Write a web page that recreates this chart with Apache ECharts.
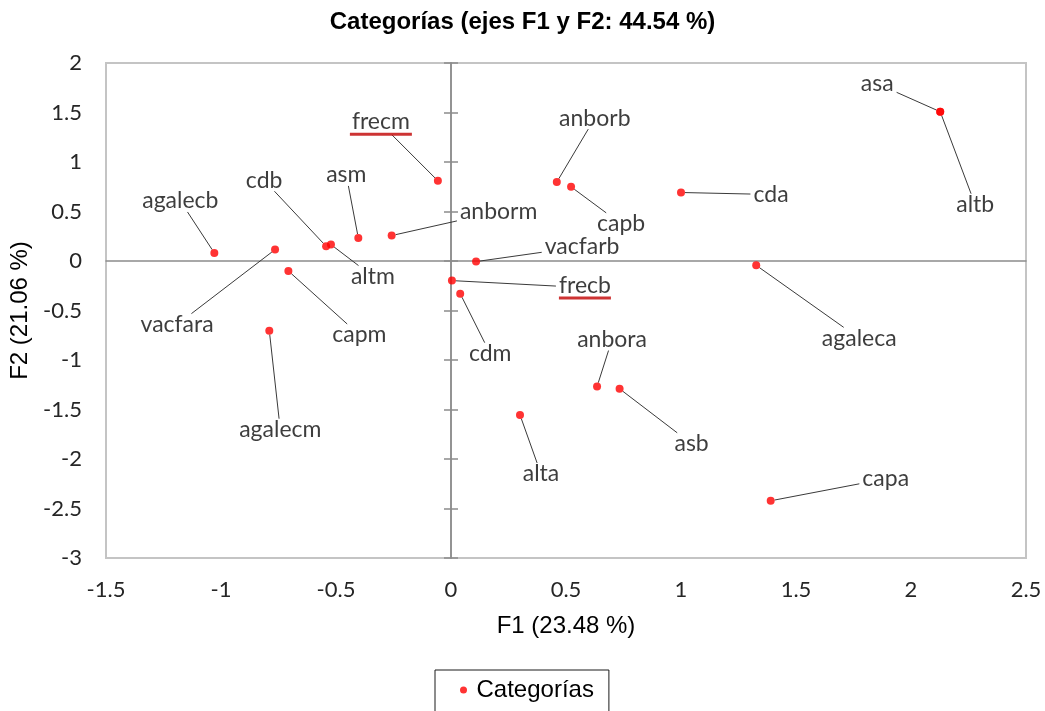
<!DOCTYPE html>
<html><head><meta charset="utf-8">
<script src="https://cdn.jsdelivr.net/npm/echarts@6/dist/echarts.min.js"></script>
<style>html,body{margin:0;padding:0;background:#fff}#c{width:1045px;height:711px}</style>
</head><body><div id="c"></div>
<script>
// ---- data ----
const categories = ['agalecb','vacfara','cdb','altm','asm','capm','agalecm','frecm','anborm','vacfarb','frecb','cdm','anborb','capb','cda','anbora','asb','alta','agaleca','capa','asa','altb'];
const f1 = [-1.029,-0.765,-0.543,-0.522,-0.403,-0.707,-0.790,-0.057,-0.258,0.109,0.004,0.040,0.460,0.522,1.000,0.635,0.733,0.300,1.327,1.390,2.127,2.127];
const f2 = [0.081,0.115,0.149,0.166,0.233,-0.101,-0.704,0.810,0.257,-0.006,-0.198,-0.330,0.797,0.749,0.692,-1.268,-1.291,-1.555,-0.044,-2.422,1.508,1.508];
const underlined = ['frecm','frecb'];
const titleText = 'Categorías (ejes F1 y F2: 44.54 %)';
const xName = 'F1 (23.48 %)';
const yName = 'F2 (21.06 %)';
const seriesName = 'Categorías';

// ---- layout (label placement relative to each point, px) ----
const labelOffset = {
  agalecb:[-34,-52], vacfara:[-98,75], cdb:[-62,-66], altm:[42,32], asm:[-12,-63],
  capm:[71,64], agalecm:[11,99], frecm:[-57,-57], anborm:[107,-24], vacfarb:[106,-15],
  frecb:[133,7], cdm:[30,60], anborb:[38,-64], capb:[50,37], cda:[90,2],
  anbora:[15,-47], asb:[72,55], alta:[21,59], agaleca:[103,73], capa:[115,-22],
  asa:[-63,-28], altb:[35,93]
};
const underlineWidth = {frecm:62, frecb:52};

const LABEL_SIZE = 23;
const labelFont = {fontFamily:'Lato', fontSize:LABEL_SIZE, color:'#0d0d0d'};

// text measurement for leader-line end points
const mctx = document.createElement('canvas').getContext('2d');
mctx.font = LABEL_SIZE + 'px Lato';
function textHalfBox(name){ return [mctx.measureText(name).width/2 + 3, 11]; }

const data = categories.map((n,i)=>{
  const item = {name:n, value:[f1[i], f2[i]], label:{offset: labelOffset[n]}};
  if (underlined.indexOf(n) >= 0) {
    item.label.formatter = '{t|' + n + '}\n{u|}';
    item.label.rich = {
      t: Object.assign({lineHeight:21}, labelFont),
      u: {width: underlineWidth[n], height:3, lineHeight:4, backgroundColor:'#c00000'}
    };
  }
  return item;
});

function leaderLine(params, api){
  const idx = api.value(2);
  const n = categories[idx];
  const p = api.coord([api.value(0), api.value(1)]);
  const off = labelOffset[n];
  const c = [p[0]+off[0], p[1]+off[1]];
  const hb = textHalfBox(n);
  const dx = c[0]-p[0], dy = c[1]-p[1];
  // parameter where the ray from point to label centre meets the label box
  const tx = dx !== 0 ? (Math.abs(dx) - hb[0]) / Math.abs(dx) : Infinity;
  const ty = dy !== 0 ? (Math.abs(dy) - hb[1]) / Math.abs(dy) : Infinity;
  let t = Math.max(Math.min(tx, Infinity), Math.min(ty, Infinity));
  if (!isFinite(tx)) t = ty; else if (!isFinite(ty)) t = tx; else t = Math.max(tx, ty);
  const len = Math.sqrt(dx*dx+dy*dy);
  const s = 4 / len;
  return {
    type:'line', silent:true,
    shape:{x1:p[0]+dx*s, y1:p[1]+dy*s, x2:p[0]+dx*t, y2:p[1]+dy*t},
    style:{stroke:'#3a3a3a', lineWidth:1}
  };
}

const chart = echarts.init(document.getElementById('c'), null, {renderer:'canvas'});
const axisCommon = {type:'value', splitLine:{show:false}};
const gray = '#8c8c8c';
chart.setOption({
  animation:false,
  backgroundColor:'#fff',
  title:{text:titleText, left:'center', top:5,
    textStyle:{fontFamily:'Liberation Sans', fontWeight:'bold', fontSize:24, color:'#000'}},
  grid:{left:106, right:19, top:63, bottom:153, show:true, borderColor:'#c4c4c4', borderWidth:2,
    containLabel:false, outerBoundsMode:'none'},
  legend:{data:[seriesName], left:435, top:670, icon:'circle', itemWidth:16, itemHeight:7,
    padding:[8,15,30,25], borderColor:'#1a1a1a', borderWidth:1,
    textStyle:{fontFamily:'Liberation Sans', fontSize:24, color:'#000'}},
  xAxis:[
    Object.assign({}, axisCommon, {min:-1.5, max:2.5, interval:0.5, position:'bottom',
      axisLine:{show:false, onZero:false}, axisTick:{show:false},
      axisLabel:{margin:21, fontFamily:'Lato', fontSize:22, color:'#262626'},
      name:xName, nameLocation:'middle', nameGap:56,
      nameTextStyle:{fontFamily:'Liberation Sans', fontSize:24, color:'#000'}}),
    Object.assign({}, axisCommon, {min:-1.5, max:2.5, interval:0.5,
      axisLine:{show:true, onZero:true, onZeroAxisIndex:0, lineStyle:{color:gray, width:1.5}},
      axisTick:{show:false}, axisLabel:{show:false}})
  ],
  yAxis:[
    Object.assign({}, axisCommon, {min:-3, max:2, interval:0.5, position:'left',
      axisLine:{show:false, onZero:false}, axisTick:{show:false},
      axisLabel:{margin:24, fontFamily:'Lato', fontSize:22, color:'#262626'},
      name:yName, nameLocation:'middle', nameGap:65,
      nameTextStyle:{fontFamily:'Liberation Sans', fontSize:24, color:'#000'}}),
    Object.assign({}, axisCommon, {min:-3, max:2, interval:0.5, position:'left',
      axisLine:{show:true, onZero:true, onZeroAxisIndex:0, lineStyle:{color:gray, width:1.5}},
      axisTick:{show:true, length:7, lineStyle:{color:gray, width:1.5}}, axisLabel:{show:false}}),
    Object.assign({}, axisCommon, {min:-3, max:2, interval:0.5, position:'right',
      axisLine:{show:true, onZero:true, onZeroAxisIndex:0, lineStyle:{color:gray, width:1.5}},
      axisTick:{show:true, length:7, lineStyle:{color:gray, width:1.5}}, axisLabel:{show:false}})
  ],
  series:[
    {
      type:'custom', xAxisIndex:0, yAxisIndex:0, silent:true, z:1,
      renderItem:leaderLine,
      data:categories.map((n,i)=>[f1[i], f2[i], i])
    },
    {
      name:seriesName, type:'scatter', xAxisIndex:0, yAxisIndex:0, z:3,
      symbol:'circle', symbolSize:8, itemStyle:{color:'#ff0000'},
      label:Object.assign({show:true, position:'inside', formatter:'{b}', align:'center', verticalAlign:'middle'}, labelFont),
      emphasis:{disabled:true},
      data:data
    }
  ]
});
</script></body></html>
